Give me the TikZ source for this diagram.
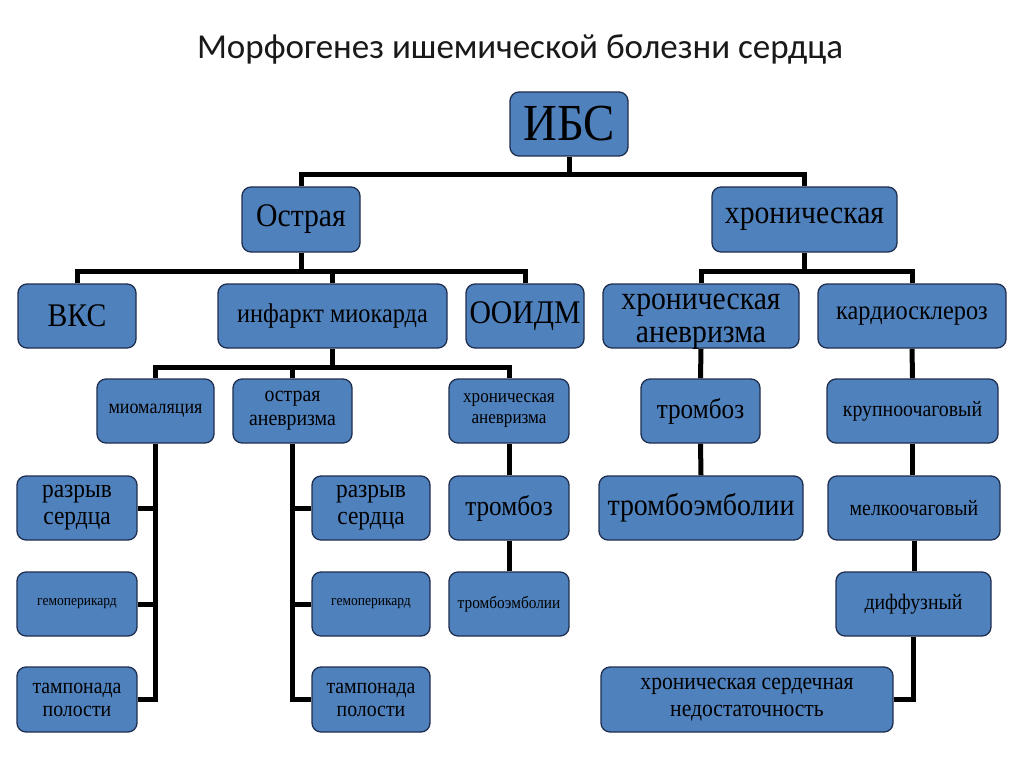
\documentclass[tikz,border=0pt]{standalone}
\usepackage{fontspec}
\setmainfont{Liberation Serif}[FakeStretch=0.9]
\newfontfamily\titlefont{Carlito}
\usetikzlibrary{backgrounds}
\definecolor{boxfill}{HTML}{4F81BD}
\definecolor{boxline}{HTML}{1F2F4F}
\tikzset{
  box/.style={draw=boxline, fill=boxfill, rounded corners=9pt, line width=1.3pt,
    inner sep=0pt, align=center, text=black},
  sz/.style 2 args={minimum width=#1 pt, minimum height=#2 pt},
  conn/.style={draw=black, line width=5pt, line join=miter},
}
\begin{document}
\begin{tikzpicture}[x=1pt,y=-1pt]
\useasboundingbox (0,0) rectangle (1024,767);
\node[font=\titlefont\fontsize{35}{38}\selectfont, text=black!90] (title) at (520,49) {Морфогенез ишемической болезни сердца};

\node[box, sz={118}{64}, font=\fontsize{52}{54}\selectfont] (ibs) at (569,124) {ИБС};
\node[box, sz={118}{65}, font=\fontsize{33}{36}\selectfont] (ostr) at (301,219.5) {Острая};
\node[box, sz={185}{65}, font=\fontsize{33}{36}\selectfont] (hron) at (804.5,219.5) {хроническая};

\node[box, sz={118}{64}, font=\fontsize{33}{36}\selectfont] (vks) at (77,316) {ВКС};
\node[box, sz={229}{64}, font=\fontsize{27}{30}\selectfont] (inf) at (332.5,316) {инфаркт миокарда};
\node[box, sz={118}{64}, font=\fontsize{33}{36}\selectfont] (ooidm) at (525,316) {ООИДМ};
\node[box, sz={196}{64}] (hran) at (701,316) {};
\node[font=\fontsize{33}{33}\selectfont, align=center, inner sep=0pt] (hrantext) at (701,322) {хроническая\\аневризма};
\node[box, sz={188}{64}, font=\fontsize{27}{30}\selectfont] (kard) at (912,316) {кардиосклероз};

\node[box, sz={117}{64}, font=\fontsize{20}{22}\selectfont] (mio) at (155.5,411) {миомаляция};
\node[box, sz={119}{64}, font=\fontsize{22}{24}\selectfont] (oan) at (292.5,411) {острая\\аневризма};
\node[box, sz={120}{64}, font=\fontsize{19}{21}\selectfont] (hran2) at (509,411) {хроническая\\аневризма};
\node[box, sz={120}{64}, font=\fontsize{28}{30}\selectfont] (trom1) at (509,508) {тромбоз};
\node[box, sz={120}{64}, font=\fontsize{17}{19}\selectfont] (temb1) at (509,604) {тромбоэмболии};

\node[box, sz={119}{64}, font=\fontsize{28}{30}\selectfont] (trom2) at (700.5,411) {тромбоз};
\node[box, sz={204}{64}, font=\fontsize{31}{33}\selectfont] (temb2) at (701,508) {тромбоэмболии};

\node[box, sz={171}{64}, font=\fontsize{22}{24}\selectfont] (krup) at (912.5,411) {крупноочаговый};
\node[box, sz={172}{64}, font=\fontsize{22}{24}\selectfont] (melk) at (914,508) {мелкоочаговый};
\node[box, sz={155}{64}, font=\fontsize{22}{24}\selectfont] (diff) at (913.5,604) {диффузный};
\node[box, sz={292}{65}, font=\fontsize{24}{27}\selectfont] (hsn) at (747,699.5) {хроническая сердечная\\недостаточность};

\node[box, sz={120}{64}, font=\fontsize{26}{27}\selectfont] (razr1) at (77,508) {разрыв\\сердца};
\node[box, sz={120}{64}, font=\fontsize{15}{17}\selectfont] (hemo1) at (77,604) {гемоперикард};
\node[box, sz={120}{65}, font=\fontsize{22}{23}\selectfont] (tamp1) at (77,699.5) {тампонада\\полости};
\node[box, sz={118}{64}, font=\fontsize{26}{27}\selectfont] (razr2) at (371,508) {разрыв\\сердца};
\node[box, sz={118}{64}, font=\fontsize{15}{17}\selectfont] (hemo2) at (371,604) {гемоперикард};
\node[box, sz={118}{65}, font=\fontsize{22}{23}\selectfont] (tamp2) at (371,699.5) {тампонада\\полости};

\coordinate (j1) at (569,175);
\coordinate (j2) at (301,271);
\coordinate (j3) at (804.5,271);
\coordinate (j4) at (332.5,367);

\begin{scope}[on background layer]
\fill[white] (0,0) rectangle (1024,767);
\draw[conn] (ibs.south) -- (j1);
\draw[conn] (j1) -| (ostr.north);
\draw[conn] (j1) -| (hron.north);
\draw[conn] (ostr.south) -- (j2);
\draw[conn] (j2) -| (vks.north);
\draw[conn] (j2) -| (inf.north);
\draw[conn] (j2) -| (ooidm.north);
\draw[conn] (hron.south) -- (j3);
\draw[conn] (j3) -| (hran.north);
\draw[conn] (j3) -| (kard.north);
\draw[conn] (inf.south) -- (j4);
\draw[conn] (j4) -| (mio.north);
\draw[conn] (j4) -| (oan.north);
\draw[conn] (j4) -| (hran2.north);
\draw[conn] (mio.south) |- (razr1.east);
\draw[conn] (mio.south) |- (hemo1.east);
\draw[conn] (mio.south) |- (tamp1.east);
\draw[conn] (oan.south) |- (razr2.west);
\draw[conn] (oan.south) |- (hemo2.west);
\draw[conn] (oan.south) |- (tamp2.west);
\draw[conn] (hran2.south) -- (trom1.north);
\draw[conn] (trom1.south) -- (temb1.north);
\draw[conn] (hran.south) -- (trom2.north);
\draw[conn] (trom2.south) -- (temb2.north);
\draw[conn] (kard.south) -- (krup.north);
\draw[conn] (krup.south) -- (krup.south |- melk.north);
\draw[conn] (melk.south) -- (melk.south |- diff.north);
\draw[conn] (diff.south) |- (hsn.east);
\end{scope}
\end{tikzpicture}
\end{document}
